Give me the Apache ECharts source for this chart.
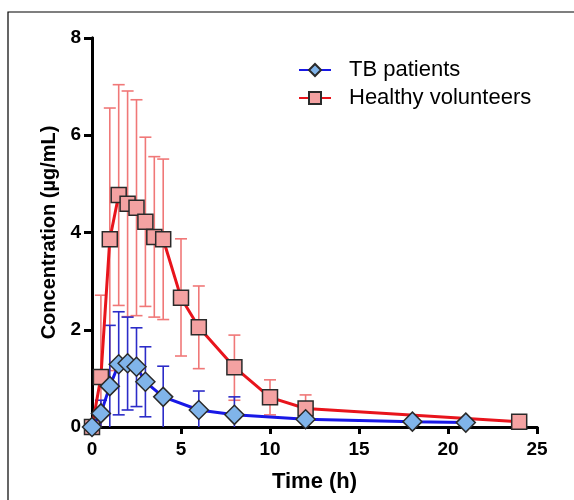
<!DOCTYPE html>
<html>
<head>
<meta charset="utf-8">
<script src="https://cdn.jsdelivr.net/npm/echarts@6/dist/echarts.min.js"></script>
<style>
  html, body { margin: 0; padding: 0; background: #fff; }
  #main { width: 574px; height: 500px; }
</style>
</head>
<body>
<div id="main"></div>
<script>
// Healthy volunteers (mean, upper and lower end of error bar)
var timeHV  = [0, 0.5, 1, 1.5, 2, 2.5, 3, 3.5, 4, 5, 6, 8, 10, 12, 24];
var meanHV  = [0, 1.03, 3.86, 4.77, 4.59, 4.51, 4.22, 3.91, 3.86, 2.66, 2.05, 1.23, 0.61, 0.38, 0.11];
var upperHV = [null, 2.71, 6.56, 7.04, 6.91, 6.73, 5.96, 5.56, 5.51, 3.87, 2.90, 1.89, 0.97, 0.66, null];
var lowerHV = [null, 0, 1.16, 2.50, 2.27, 2.29, 2.48, 2.26, 2.21, 1.46, 1.20, 0.55, 0.25, 0.10, null];

// TB patients
var timeTB  = [0, 0.5, 1, 1.5, 2, 2.5, 3, 4, 6, 8, 12, 18, 21];
var meanTB  = [0, 0.28, 0.84, 1.29, 1.31, 1.24, 0.93, 0.62, 0.35, 0.25, 0.16, 0.11, 0.09];
var upperTB = [null, 0.55, 2.09, 2.37, 2.26, 2.04, 1.65, 1.25, 0.74, 0.62, 0.39, null, null];
var lowerTB = [null, 0, 0, 0.25, 0.35, 0.42, 0.21, 0, 0, 0, 0, null, null];

var xTicks = [0, 5, 10, 15, 20, 25];
var yTicks = [0, 2, 4, 6, 8];

var FONT = 'Liberation Sans, Arial, sans-serif';

function pairs(xs, ys) {
    var out = [];
    for (var i = 0; i < xs.length; i++) out.push([xs[i], ys[i]]);
    return out;
}

function errRows(xs, lo, hi) {
    var out = [];
    for (var i = 0; i < xs.length; i++) {
        if (hi[i] == null) continue;
        out.push([xs[i], lo[i], hi[i]]);
    }
    return out;
}

/**
 * error bar drawing
 */
function errorBar(color) {
    return function(params, api) {
        var x = api.value(0);
        var lo = api.value(1);
        var hi = api.value(2);
        var pHi = api.coord([x, hi]);
        var pLo = api.coord([x, lo]);
        var w = 6;
        var style = { stroke: color, lineWidth: 1.6 };
        var kids = [{
            type: 'line',
            shape: { x1: pHi[0], y1: pHi[1], x2: pLo[0], y2: pLo[1] },
            style: style
        }, {
            type: 'line',
            shape: { x1: pHi[0] - w, y1: pHi[1], x2: pHi[0] + w, y2: pHi[1] },
            style: style
        }];
        if (lo > 0) {
            kids.push({
                type: 'line',
                shape: { x1: pLo[0] - w, y1: pLo[1], x2: pLo[0] + w, y2: pLo[1] },
                style: style
            });
        }
        return { type: 'group', children: kids };
    };
}

var axisLineStyle = { color: '#000', width: 3 };

var option = {
    animation: false,
    backgroundColor: '#fff',
    graphic: [{
        type: 'rect',
        shape: { x: 8, y: 12, width: 600, height: 520 },
        style: { fill: 'none', stroke: '#000', lineWidth: 1.2 },
        silent: true
    }],
    grid: { left: 92, right: 37, top: 38, bottom: 73 },
    legend: {
        orient: 'vertical',
        left: 293,
        top: 54,
        itemWidth: 32,
        itemHeight: 15,
        itemGap: 6,
        textStyle: { fontFamily: FONT, fontSize: 22, color: '#000', padding: [0, 0, 0, 13] },
        data: ['TB patients', 'Healthy volunteers']
    },
    xAxis: [{
        type: 'value',
        min: 0, max: 25, interval: 5,
        name: 'Time (h)',
        nameLocation: 'middle',
        nameGap: 44,
        nameTextStyle: { fontFamily: FONT, fontSize: 22, fontWeight: 'bold', color: '#000' },
        axisLine: { show: true, lineStyle: axisLineStyle },
        axisTick: { show: true, length: 7, lineStyle: axisLineStyle },
        axisLabel: { fontFamily: FONT, fontSize: 19, fontWeight: 'bold', color: '#000', margin: 13,
            customValues: xTicks },
        splitLine: { show: false }
    }, {
        type: 'value',
        position: 'top',
        min: 0, max: 25,
        axisLine: { show: true, lineStyle: axisLineStyle },
        axisTick: { show: false },
        axisLabel: { show: false },
        splitLine: { show: false }
    }],
    yAxis: [{
        type: 'value',
        min: 0, max: 8, interval: 2,
        name: 'Concentration (µg/mL)',
        nameLocation: 'middle',
        nameGap: 33,
        nameTextStyle: { fontFamily: FONT, fontSize: 20, fontWeight: 'bold', color: '#000' },
        axisLine: { show: true, lineStyle: axisLineStyle },
        axisTick: { show: true, length: 8, lineStyle: axisLineStyle },
        axisLabel: { fontFamily: FONT, fontSize: 19, fontWeight: 'bold', color: '#000', margin: 11,
            customValues: yTicks },
        splitLine: { show: false }
    }, {
        type: 'value',
        position: 'right',
        min: 0, max: 8,
        axisLine: { show: true, lineStyle: axisLineStyle },
        axisTick: { show: false },
        axisLabel: { show: false },
        splitLine: { show: false }
    }],
    series: [{
        name: 'HV error',
        type: 'custom',
        renderItem: errorBar('#f07878'),
        data: errRows(timeHV, lowerHV, upperHV),
        z: 1,
        silent: true
    }, {
        name: 'TB error',
        type: 'custom',
        renderItem: errorBar('#2c2cc8'),
        data: errRows(timeTB, lowerTB, upperTB),
        z: 1,
        silent: true
    }, {
        name: 'Healthy volunteers',
        type: 'line',
        data: pairs(timeHV, meanHV),
        symbol: 'rect',
        symbolSize: 15,
        lineStyle: { color: '#e8141c', width: 3 },
        itemStyle: { color: '#f4a2a2', borderColor: '#2a2a2a', borderWidth: 1.5 },
        z: 3
    }, {
        name: 'TB patients',
        type: 'line',
        data: pairs(timeTB, meanTB),
        symbol: 'diamond',
        symbolSize: 19,
        lineStyle: { color: '#1818e6', width: 3 },
        itemStyle: { color: '#80b4ea', borderColor: '#2a2a2a', borderWidth: 1.5 },
        z: 4
    }]
};

var myChart = echarts.init(document.getElementById('main'));
myChart.setOption(option);
</script>
</body>
</html>
